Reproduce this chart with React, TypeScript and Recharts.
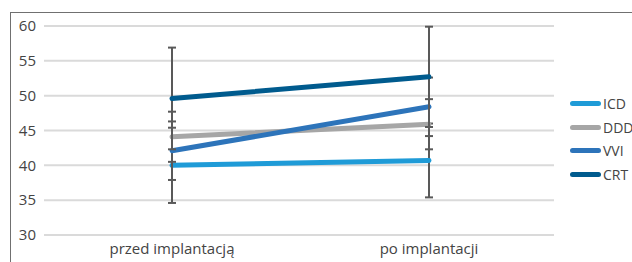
import { LineChart, Line, XAxis, YAxis, CartesianGrid, ErrorBar } from "recharts";

const categories = ["przed implantacją", "po implantacji"];
const icd = [40.0, 40.7];
const ddd = [44.1, 45.9];
const vvi = [42.1, 48.4];
const crt = [49.6, 52.7];
const icdErr = [5.4, 5.3];
const dddErr = [3.6, 3.6];
const vviErr = [4.2, 4.2];
const crtErr = [7.3, 7.2];
const yTicks = [30, 35, 40, 45, 50, 55, 60];

const series = [
  { key: "ICD", color: "#1f9bd7" },
  { key: "DDD", color: "#a6a6a6" },
  { key: "VVI", color: "#2d74ba" },
  { key: "CRT", color: "#005b8e" },
];

const data = categories.map((name, i) => ({
  name,
  ICD: icd[i],
  DDD: ddd[i],
  VVI: vvi[i],
  CRT: crt[i],
  ICDErr: icdErr[i],
  DDDErr: dddErr[i],
  VVIErr: vviErr[i],
  CRTErr: crtErr[i],
}));

const font = "'Open Sans', sans-serif";

// legend sits outside the svg so it doesn't steal plot height
function LegendBox() {
  return (
    <div style={{ position: "absolute", left: 559, top: 79, fontFamily: font, fontSize: 14, color: "#444" }}>
      {series.map((s) => (
        <div key={s.key} style={{ display: "flex", alignItems: "center", height: 23.5 }}>
          <div style={{ width: 31, height: 5, borderRadius: 3, background: s.color, marginRight: 2 }} />
          <span>{s.key}</span>
        </div>
      ))}
    </div>
  );
}

export default function App() {
  return (
    <div
      style={{
        position: "absolute",
        left: 10,
        top: 12,
        width: 680,
        height: 280,
        border: "1px solid #707070",
        background: "#fff",
      }}
    >
      <LineChart width={680} height={262} data={data} margin={{ top: 13, right: 137, bottom: 10, left: 0 }}>
        <CartesianGrid vertical={false} stroke="#dadada" strokeWidth={2} />
        <XAxis
          dataKey="name"
          axisLine={false}
          tickLine={false}
          tickSize={0}
          tickMargin={8}
          height={30}
          padding={{ left: 128, right: 125 }}
          tick={{ fill: "#444", fontSize: 15, fontFamily: font }}
        />
        <YAxis
          domain={[30, 60]}
          ticks={yTicks}
          width={33}
          axisLine={false}
          tickLine={false}
          tickSize={0}
          tickMargin={8}
          tick={{ fill: "#444", fontSize: 15, fontFamily: font }}
        />
        {series.map((s) => (
          <Line
            key={s.key}
            dataKey={s.key}
            stroke={s.color}
            strokeWidth={5}
            strokeLinecap="round"
            dot={false}
            activeDot={false}
            isAnimationActive={false}
          >
            <ErrorBar dataKey={s.key + "Err"} width={4} stroke="#595959" strokeWidth={2} isAnimationActive={false} />
          </Line>
        ))}
      </LineChart>
      <LegendBox />
    </div>
  );
}
